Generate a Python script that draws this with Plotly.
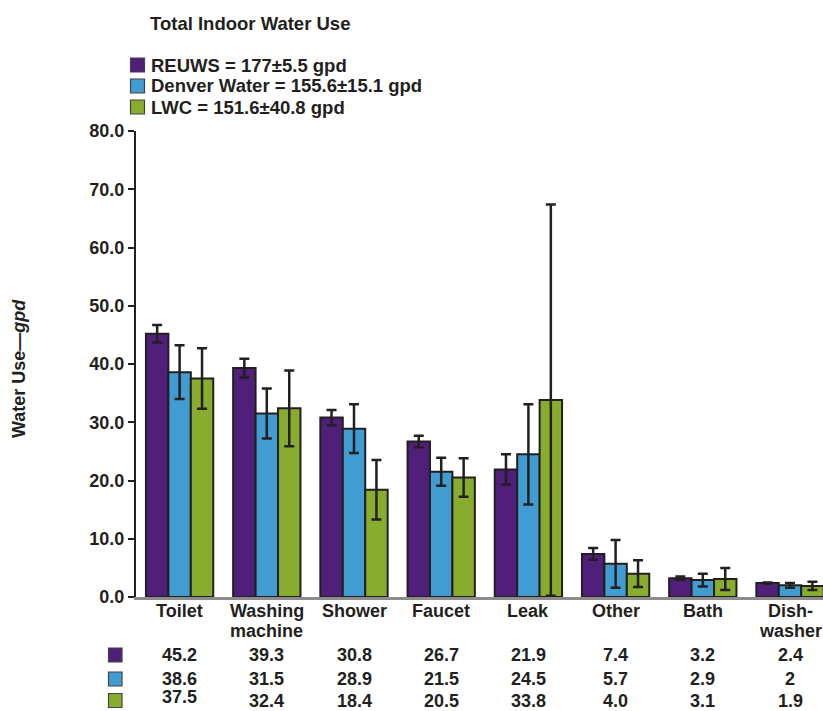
import plotly.graph_objects as go

# End-use categories (x axis)
categories = ["Toilet", "Washing<br>machine", "Shower", "Faucet", "Leak", "Other", "Bath", "Dish-<br>washer"]

# Per-study mean use, as printed in the table under the chart (gpd)
reuws_txt = ["45.2", "39.3", "30.8", "26.7", "21.9", "7.4", "3.2", "2.4"]
denver_txt = ["38.6", "31.5", "28.9", "21.5", "24.5", "5.7", "2.9", "2"]
lwc_txt = ["37.5", "32.4", "18.4", "20.5", "33.8", "4.0", "3.1", "1.9"]

# Error-bar half widths (gpd)
reuws_err = [1.5, 1.6, 1.3, 1.0, 2.6, 1.0, 0.3, 0.1]
denver_err = [4.6, 4.3, 4.2, 2.4, 8.6, 4.1, 1.1, 0.4]
lwc_err = [5.2, 6.5, 5.1, 3.3, 33.6, 2.3, 1.9, 0.7]

# Study names and total indoor use
series_names = ["REUWS", "Denver Water", "LWC"]
series_totals = ["177", "155.6", "151.6"]
series_total_err = ["5.5", "15.1", "40.8"]

colors = ["#4f1f79", "#409cd1", "#88ad2e"]
ink = "#231f20"
FONT = "Liberation Sans, Arial, Helvetica, sans-serif"
FS = 18
FS_HEAD = 18.5

# plot-area geometry in pixels (used to place legend / table items)
W_FIG, H_FIG = 823, 711
L, R, T, B = 136, 823, 131, 597


def px_x(x):
    return (x - L) / (R - L)


def px_y(y):
    return (B - y) / (B - T)


def bold(size=FS):
    return dict(family=FONT, size=size, color=ink, weight="bold")


tables = [reuws_txt, denver_txt, lwc_txt]
errs = [reuws_err, denver_err, lwc_err]
xpos = list(range(len(categories)))

fig = go.Figure()
for name, txt, err, col in zip(series_names, tables, errs, colors):
    fig.add_trace(go.Bar(
        x=xpos,
        y=[float(t) for t in txt],
        name=name,
        marker=dict(color=col, line=dict(color=ink, width=2)),
        error_y=dict(type="data", array=err, visible=True,
                     color=ink, thickness=2.5, width=5),
        showlegend=False,
    ))

shapes = []
annotations = []

# legend block (squares + text)
legend_rows = [65, 86, 107]
for name, tot, te, col, yr in zip(series_names, series_totals, series_total_err, colors, legend_rows):
    shapes.append(dict(type="rect", xref="paper", yref="paper",
                       x0=px_x(130.5), x1=px_x(144.5), y0=px_y(yr + 7), y1=px_y(yr - 7),
                       fillcolor=col, line=dict(color="#444444", width=1.2)))
    annotations.append(dict(xref="paper", yref="paper", x=px_x(149), y=px_y(yr),
                            xanchor="left", yanchor="middle", showarrow=False,
                            text=f"{name} = {tot}\u00b1{te} gpd", font=bold(FS_HEAD)))

# category labels, one line per annotation for tight line spacing
label_rows = [611, 631]
for c, cat in enumerate(categories):
    for line, yr in zip(cat.split("<br>"), label_rows):
        annotations.append(dict(xref="x", yref="paper", x=c, y=px_y(yr),
                                xanchor="center", yanchor="middle", showarrow=False,
                                text=line, font=bold()))

# data table beneath the category labels
table_rows = [655, 679, 700.5]
nudges = {(2, 0): -4}
for r, (txt, col, yr) in enumerate(zip(tables, colors, table_rows)):
    shapes.append(dict(type="rect", xref="paper", yref="paper",
                       x0=px_x(108.5), x1=px_x(122), y0=px_y(yr + 7), y1=px_y(yr - 7),
                       fillcolor=col, line=dict(color="#444444", width=1.2)))
    for c, t in enumerate(txt):
        annotations.append(dict(xref="x", yref="paper", x=c, y=px_y(yr + nudges.get((r, c), 0)),
                                xanchor="center", yanchor="middle", showarrow=False,
                                text=t, font=bold()))

# y-axis title
annotations.append(dict(xref="paper", yref="paper", x=px_x(19), y=px_y(369),
                        xanchor="center", yanchor="middle", showarrow=False, textangle=-90,
                        text="Water Use\u2014<i>gpd</i>", font=bold()))

fig.update_layout(
    width=W_FIG, height=H_FIG,
    margin=dict(l=L, r=W_FIG - R, t=T, b=H_FIG - B, pad=0),
    paper_bgcolor="white", plot_bgcolor="white",
    barmode="group", bargap=0.228, bargroupgap=0,
    font=bold(),
    title=dict(text="Total Indoor Water Use", xref="container", yref="container",
               x=150 / W_FIG, xanchor="left", y=1 - 24 / H_FIG, yanchor="middle",
               font=bold(FS_HEAD)),
    shapes=shapes,
    annotations=annotations,
)

fig.update_xaxes(
    range=[-0.5, -0.5 + (R - L) / 87.2],
    tickmode="array", tickvals=xpos, showticklabels=False,
    showgrid=False, zeroline=False,
    showline=True, linecolor="#8c8c8c", linewidth=2.5,
    ticks="",
)
fig.update_yaxes(
    range=[0, 80], tickvals=[0, 10, 20, 30, 40, 50, 60, 70, 80], tickformat=".1f",
    showgrid=False, zeroline=False,
    showline=True, linecolor=ink, linewidth=2,
    ticks="outside", ticklen=6, tickwidth=1.5, tickcolor=ink,
    tickfont=bold(),
)

fig.write_html("out.html")
